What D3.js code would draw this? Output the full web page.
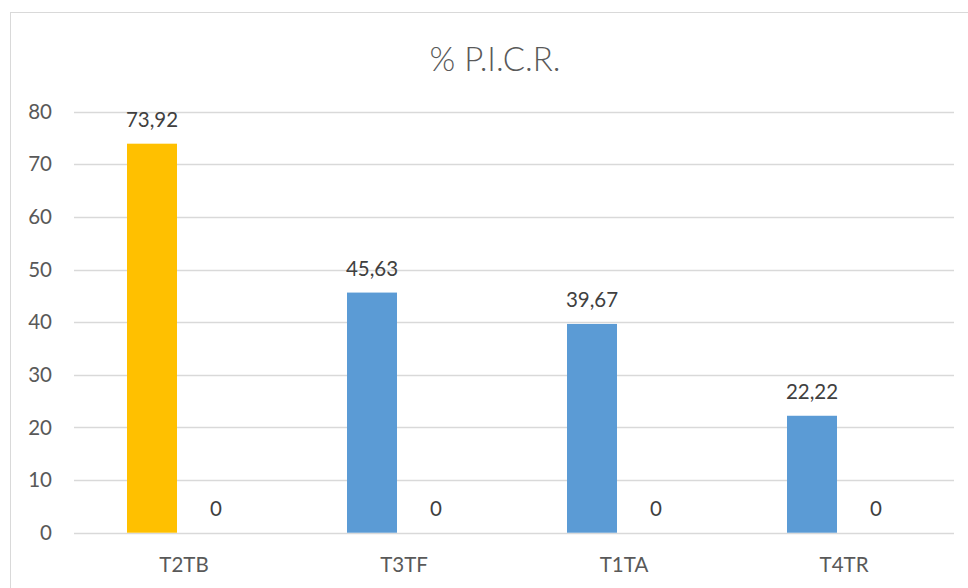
<!DOCTYPE html>
<html>
<head>
<meta charset="utf-8">
<script src="https://cdn.jsdelivr.net/npm/d3@7"></script>
<style>
  html, body { margin: 0; padding: 0; background: #fff; }
  svg { display: block; font-family: Lato, "Open Sans", sans-serif; }
</style>
</head>
<body>
<svg id="chart" width="968" height="588"></svg>
<script>
// Chart data
const title = "% P.I.C.R.";
const categories = ["T2TB", "T3TF", "T1TA", "T4TR"];
const seriesNames = ["pct", "ref"];
const pctValues = [73.92, 45.63, 39.67, 22.22];
const refValues = [0, 0, 0, 0];
const pctColors = ["#FFC000", "#5B9BD5", "#5B9BD5", "#5B9BD5"];
const yTicks = [0, 10, 20, 30, 40, 50, 60, 70, 80];

const svg = d3.select("#chart");
const plot = { left: 74, right: 954, top: 111.7, bottom: 532.7 };
const labelSize = 20.5;

// Chart frame
svg.append("rect")
  .attr("x", 10.5).attr("y", 12.5)
  .attr("width", 1000).attr("height", 700)
  .attr("fill", "#fff").attr("stroke", "#D9D9D9").attr("stroke-width", 1);

// Title
svg.append("text")
  .attr("x", 495).attr("y", 71)
  .attr("text-anchor", "middle")
  .attr("font-size", 33)
  .attr("font-weight", 300)
  .attr("fill", "#595959")
  .text(title);

const y = d3.scaleLinear().domain([0, 80]).range([plot.bottom, plot.top]);
const x = d3.scaleBand().domain(categories).range([plot.left, plot.right]).padding(0);
const xs = d3.scaleBand().domain(seriesNames)
  .range([0, x.bandwidth()])
  .paddingInner(0.21875).paddingOuter(0.828125);

// Gridlines
svg.append("g")
  .selectAll("line").data(yTicks).join("line")
  .attr("x1", plot.left).attr("x2", plot.right)
  .attr("y1", d => Math.round(y(d)) + 0.5).attr("y2", d => Math.round(y(d)) + 0.5)
  .attr("stroke", "#D9D9D9").attr("stroke-width", 1.3);

// Y axis labels
const yAxis = d3.axisLeft(y).tickValues(yTicks).tickSize(0).tickPadding(0).tickFormat(d3.format("d"));
const gy = svg.append("g").attr("transform", `translate(52,0)`).call(yAxis);
gy.select(".domain").remove();
gy.selectAll("text").attr("font-size", labelSize).attr("fill", "#595959").attr("font-family", "Lato, sans-serif");

// X axis labels
const xAxis = d3.axisBottom(x).tickSize(0).tickPadding(0);
const gx = svg.append("g").attr("transform", `translate(0,${plot.bottom})`).call(xAxis);
gx.select(".domain").remove();
gx.selectAll("text").attr("font-size", labelSize).attr("fill", "#595959")
  .attr("font-family", "Lato, sans-serif").attr("dy", "1.9em");

// Bars
const rows = categories.map((c, i) => ({
  cat: c,
  vals: [
    { s: "pct", v: pctValues[i], color: pctColors[i] },
    { s: "ref", v: refValues[i], color: "#ED7D31" }
  ]
}));

const groups = svg.append("g").selectAll("g").data(rows).join("g")
  .attr("transform", d => `translate(${x(d.cat)},0)`);

groups.selectAll("rect").data(d => d.vals).join("rect")
  .attr("x", d => xs(d.s))
  .attr("width", xs.bandwidth())
  .attr("y", d => y(d.v))
  .attr("height", d => y(0) - y(d.v))
  .attr("fill", d => d.color);

// Value labels
const fmt = v => v === 0 ? "0" : d3.format(".2f")(v).replace(".", ",");
groups.selectAll("text.val").data(d => d.vals).join("text")
  .attr("class", "val")
  .attr("x", d => xs(d.s) + xs.bandwidth() / 2)
  .attr("y", d => y(d.v) - 17)
  .attr("text-anchor", "middle")
  .attr("font-size", labelSize)
  .attr("fill", "#404040")
  .text(d => fmt(d.v));
</script>
</body>
</html>
